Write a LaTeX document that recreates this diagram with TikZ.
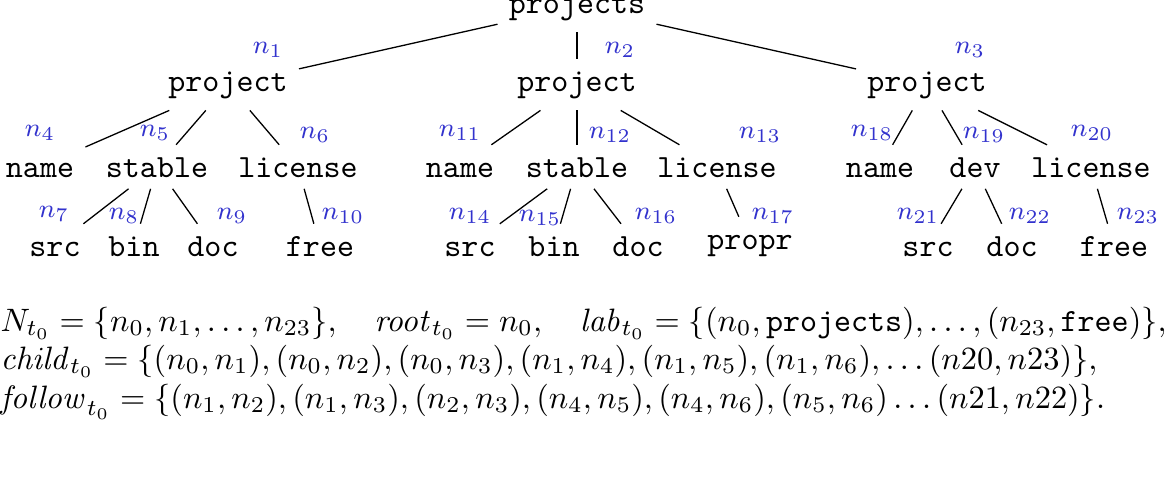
\documentclass[tikz,border=0pt]{standalone}
\usepackage{amsmath}
\usepackage{amssymb}
\usepackage{xcolor}
\definecolor{lblblue}{RGB}{50,50,205}
\tikzset{
  dirnode/.style={font=\ttfamily, anchor=south, text height=1.5ex},
  edgelbl/.style={font=\footnotesize, text=lblblue},
  setline/.style={anchor=base west, inner sep=0pt},
}
\begin{document}
\begin{tikzpicture}[x=0.3086pt, y=-0.3086pt]
\useasboundingbox (0,0) rectangle (1168,478);
%%%%% Root and projects %%%%%
\node[dirnode] (root) at (577,32) {projects};
\node[dirnode] (p1) at (228,110.4) {project};
\node[dirnode] (p2) at (577,110.4) {project};
\node[dirnode] (p3) at (927,110.4) {project};
%%%%% Level 2 %%%%%
\node[dirnode] (name1) at (40,188.8) {name};
\node[dirnode] (stable1) at (157,188.8) {stable};
\node[dirnode] (lic1) at (298,188.8) {license};
\node[dirnode] (name2) at (460,188.8) {name};
\node[dirnode] (stable2) at (577,188.8) {stable};
\node[dirnode] (lic2) at (717,188.8) {license};
\node[dirnode] (name3) at (880,188.8) {name};
\node[dirnode] (dev3) at (975,188.8) {dev};
\node[dirnode] (lic3) at (1091,188.8) {license};
%%%%% Level 3 %%%%%
\node[dirnode] (src1) at (55,267.8) {src};
\node[dirnode] (bin1) at (134,267.8) {bin};
\node[dirnode] (doc1) at (213,267.8) {doc};
\node[dirnode] (free1) at (320,267.8) {free};
\node[dirnode] (src2) at (470,267.8) {src};
\node[dirnode] (bin2) at (554,267.8) {bin};
\node[dirnode] (doc2) at (638,267.8) {doc};
\node[dirnode] (propr2) at (750,267.8) {propr};
\node[dirnode] (src3) at (928,267.8) {src};
\node[dirnode] (doc3) at (1012,267.8) {doc};
\node[dirnode] (free3) at (1114,267.8) {free};
%%%%% Edges %%%%%
\foreach \a/\b in {root/p1,root/p2,root/p3,
  p1/name1,p1/stable1,p1/lic1,stable1/src1,stable1/bin1,stable1/doc1,lic1/free1,
  p2/name2,p2/stable2,p2/lic2,stable2/src2,stable2/bin2,stable2/doc2,lic2/propr2,
  p3/name3,p3/dev3,p3/lic3,dev3/src3,dev3/doc3,lic3/free3}{
\draw (\a) -- (\b);
}
%%%%% Node labels %%%%%
\foreach \i/\x/\y in {1/268/50,2/620/50,3/970/50,
  4/40/133,5/155/133,6/315/135,7/54/214,8/124/216,9/232/216,10/343/216,
  11/460/133,12/610/135,13/760/135,14/470/216,15/540/218,16/656/216,17/773/216,
  18/872/133,19/984/135,20/1092/133,21/918/216,22/1030/216,23/1138/216}{
\node[edgelbl] (l\i) at (\x,\y) {$n_{\i}$};
}
%%%%% Sets %%%%%
\node[setline] (setN) at (0,331) {$N_{t_0} = \{n_0, n_1, \ldots, n_{23}\}, \quad \mathit{root}_{t_0} = n_0, \quad \mathit{lab}_{t_0} = \{(n_0, \texttt{projects}), \ldots, (n_{23}, \texttt{free})\},$};
\node[setline] (setchild) at (0,369) {$\mathit{child}_{t_0} = \{(n_0,n_1),(n_0,n_2),(n_0,n_3),(n_1,n_4),(n_1,n_5),(n_1,n_6),\ldots(n20,n23)\},$};
\node[setline] (setfollow) at (0,408) {$\mathit{follow}_{t_0} = \{(n_1,n_2),(n_1,n_3),(n_2,n_3),(n_4,n_5),(n_4,n_6),(n_5,n_6)\ldots(n21,n22)\}.$};
\end{tikzpicture}
\end{document}
